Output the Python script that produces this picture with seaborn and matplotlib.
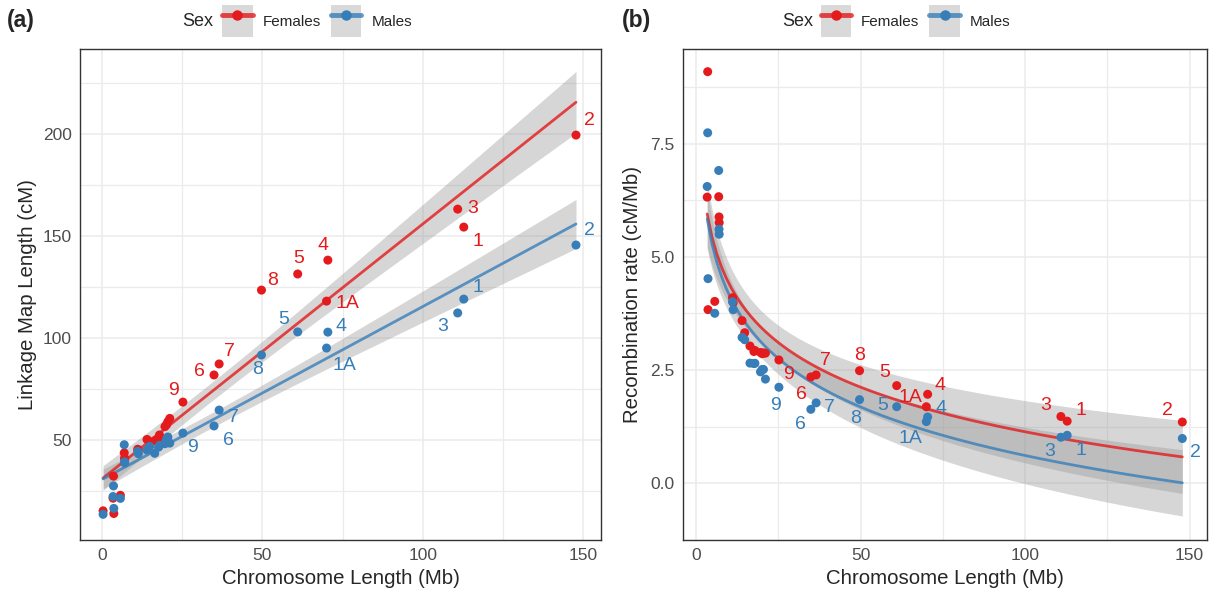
import matplotlib
matplotlib.use('Agg')
import matplotlib.pyplot as plt
from matplotlib.lines import Line2D
from matplotlib.patches import Patch
import seaborn as sns
import numpy as np
import pandas as pd

# Datos (cromosomas pequeños sin etiqueta)
cromosomas = ['1', '2', '3', '1A', '4', '5', '6', '7', '8', '9',
              '', '', '', '', '', '', '', '', '', '',
              '', '', '', '', '', '', '', '', '']
longitud_mb = [112.8, 147.8, 110.9, 70.0, 70.4, 61.0, 34.9, 36.5, 49.7, 25.2,
               0.3, 3.4, 3.55, 3.65, 5.7, 6.9, 7.0, 7.05, 11.1, 11.3,
               14.0, 14.8, 16.4, 17.6, 17.9, 19.6, 20.1, 20.5, 21.1]
hembras_cm = [154.4, 199.5, 163.2, 118.1, 138.2, 131.4, 81.9, 87.3, 123.5, 68.6,
              15.3, 21.5, 32.3, 14.0, 22.9, 43.7, 41.2, 40.6, 45.5, 45.1,
              50.3, 49.2, 49.7, 51.2, 52.5, 56.6, 57.5, 59.0, 60.6]
machos_cm = [119.1, 145.6, 112.3, 95.1, 102.9, 103.0, 56.9, 64.7, 91.7, 53.4,
             13.6, 22.3, 27.5, 16.5, 21.4, 47.7, 39.3, 38.8, 44.5, 43.3,
             45.1, 46.9, 43.5, 46.5, 47.4, 48.2, 50.5, 51.5, 48.5]

colores = {'Females': '#E41A1C', 'Males': '#377EB8'}

# Desplazamiento de las etiquetas en píxeles (dx, dy hacia abajo)
offs_a = {
    'Females': {'2': (13, -15), '3': (15, -1), '1': (14, 14), '4': (-5, -15), '5': (1, -15),
                '8': (11, -10), '1A': (21, 2), '7': (10, -12), '6': (-15, -3), '9': (-9, -12)},
    'Males': {'2': (13, -15), '1': (14, -12), '3': (-15, 14), '4': (13, -6), '5': (-14, -12),
              '1A': (18, 17), '8': (-4, 15), '7': (14, 7), '6': (14, 15), '9': (10, 14)},
}
offs_b = {
    'Females': {'2': (-15, -12), '3': (-15, -11), '1': (14, -11), '4': (12, -9), '1A': (-16, -9),
                '5': (-12, -13), '8': (0, -15), '7': (9, -14), '6': (-9, 18), '9': (10, 15)},
    'Males': {'2': (13, 14), '3': (-11, 14), '1': (14, 15), '4': (13, -8), '1A': (-16, 17),
              '5': (-14, -1), '8': (-4, 19), '7': (13, 5), '6': (-10, 15), '9': (-3, 18)},
}

df = pd.concat([
    pd.DataFrame({'Chr': cromosomas, 'Length': longitud_mb, 'Map': hembras_cm, 'Sex': 'Females'}),
    pd.DataFrame({'Chr': cromosomas, 'Length': longitud_mb, 'Map': machos_cm, 'Sex': 'Males'}),
], ignore_index=True)
df['Rate'] = df['Map'] / df['Length']
df_b = df[df['Rate'] < 10]

sns.set_style('white')
plt.rcParams['font.family'] = ['Liberation Sans', 'DejaVu Sans']

fig = plt.figure(figsize=(12.13, 5.93), dpi=100)
ax1 = fig.add_axes([80 / 1213, 1 - 540 / 593, 521 / 1213, 491 / 593])
ax2 = fig.add_axes([683 / 1213, 1 - 540 / 593, 524 / 1213, 491 / 593])


def banda_ic(ax, x, y, logx):
    # intervalo de confianza del 95% (t aprox. 2.05), como geom_smooth(method = "lm")
    x = np.asarray(x, float)
    y = np.asarray(y, float)
    u = np.log(x) if logx else x
    X = np.column_stack([np.ones_like(u), u])
    beta, *_ = np.linalg.lstsq(X, y, rcond=None)
    resid = y - X @ beta
    s2 = resid @ resid / (len(y) - 2)
    cov = s2 * np.linalg.inv(X.T @ X)
    xg = np.linspace(x.min(), x.max(), 200)
    ug = np.log(xg) if logx else xg
    G = np.column_stack([np.ones_like(ug), ug])
    fit = G @ beta
    se = np.sqrt(np.einsum('ij,jk,ik->i', G, cov, G))
    ax.fill_between(xg, fit - 2.05 * se, fit + 2.05 * se, color='#999999', alpha=0.4,
                    lw=0, zorder=1.5)


def panel(ax, data, ycol, logx, offs):
    for sexo in ['Females', 'Males']:
        d = data[data['Sex'] == sexo]
        banda_ic(ax, d['Length'], d[ycol], logx)
        sns.regplot(data=d, x='Length', y=ycol, ax=ax, scatter=False, logx=logx, ci=None,
                    line_kws=dict(color=colores[sexo], lw=2.0, alpha=0.8, zorder=2))
    sns.scatterplot(data=data, x='Length', y=ycol, hue='Sex', palette=colores, s=42,
                    edgecolor='none', legend=False, ax=ax, zorder=4)
    for sexo in ['Females', 'Males']:
        d = data[(data['Sex'] == sexo) & (data['Chr'] != '')]
        for _, r in d.iterrows():
            dx, dy = offs[sexo][r['Chr']]
            ax.annotate(r['Chr'], (r['Length'], r[ycol]), xytext=(dx, -dy),
                        textcoords='offset pixels', ha='center', va='center',
                        fontsize=14, color=colores[sexo], zorder=5)
    ax.set_xticks([0, 50, 100, 150])
    ax.set_xticks([25, 75, 125], minor=True)
    ax.grid(which='major', color='#EBEBEB', lw=1.1)
    ax.grid(which='minor', color='#EBEBEB', lw=0.9)
    ax.set_axisbelow(True)
    for s in ax.spines.values():
        s.set_color('#333333')
        s.set_linewidth(1.0)
    ax.tick_params(which='major', length=4, width=1.1, color='#333333',
                   labelcolor='#4D4D4D', labelsize=12.5, pad=2)
    ax.tick_params(which='minor', length=0)
    ax.set_xlabel('Chromosome Length (Mb)', fontsize=14.7, labelpad=4)


panel(ax1, df, 'Map', False, offs_a)
ax1.set_xlim(-6.9, 155.6)
ax1.set_ylim(1, 241.7)
ax1.set_yticks([50, 100, 150, 200])
ax1.set_yticks([25, 75, 125, 175, 225], minor=True)
ax1.set_ylabel('Linkage Map Length (cM)', fontsize=14.7, labelpad=4)

panel(ax2, df_b, 'Rate', True, offs_b)
ax2.set_xlim(-3.95, 155.3)
ax2.set_ylim(-1.26, 9.6)
ax2.set_yticks([0, 2.5, 5.0, 7.5])
ax2.set_yticklabels(['0.0', '2.5', '5.0', '7.5'])
ax2.set_yticks([-1.25, 1.25, 3.75, 6.25, 8.75], minor=True)
ax2.set_ylabel('Recombination rate (cM/Mb)', fontsize=14.7, labelpad=6)

# Etiquetas de panel y leyendas
fig.text(7 / 1213, 1 - 21 / 593, '(a)', fontsize=16.5, fontweight='bold', va='center')
fig.text(622 / 1213, 1 - 21 / 593, '(b)', fontsize=16.5, fontweight='bold', va='center')


def clave(color):
    return (Patch(facecolor='#D9D9D9', edgecolor='none'),
            Line2D([], [], color=color, lw=3.5, alpha=0.8),
            Line2D([], [], color=color, marker='o', ms=6.5, lw=0))


for cx, sx in [(317, 213), (915.5, 813)]:
    fig.text(sx / 1213, 1 - 21 / 593, 'Sex', ha='right', va='center', fontsize=13)
    fig.legend(handles=[clave(colores['Females']), clave(colores['Males'])],
               labels=['Females', 'Males'], ncol=2, loc='center',
               bbox_to_anchor=(cx / 1213, 1 - 21 / 593), frameon=False,
               fontsize=11, handlelength=2.0, handleheight=2.8, handletextpad=0.65,
               columnspacing=0.65, borderpad=0, borderaxespad=0)

fig.savefig('out.png', dpi=100)
